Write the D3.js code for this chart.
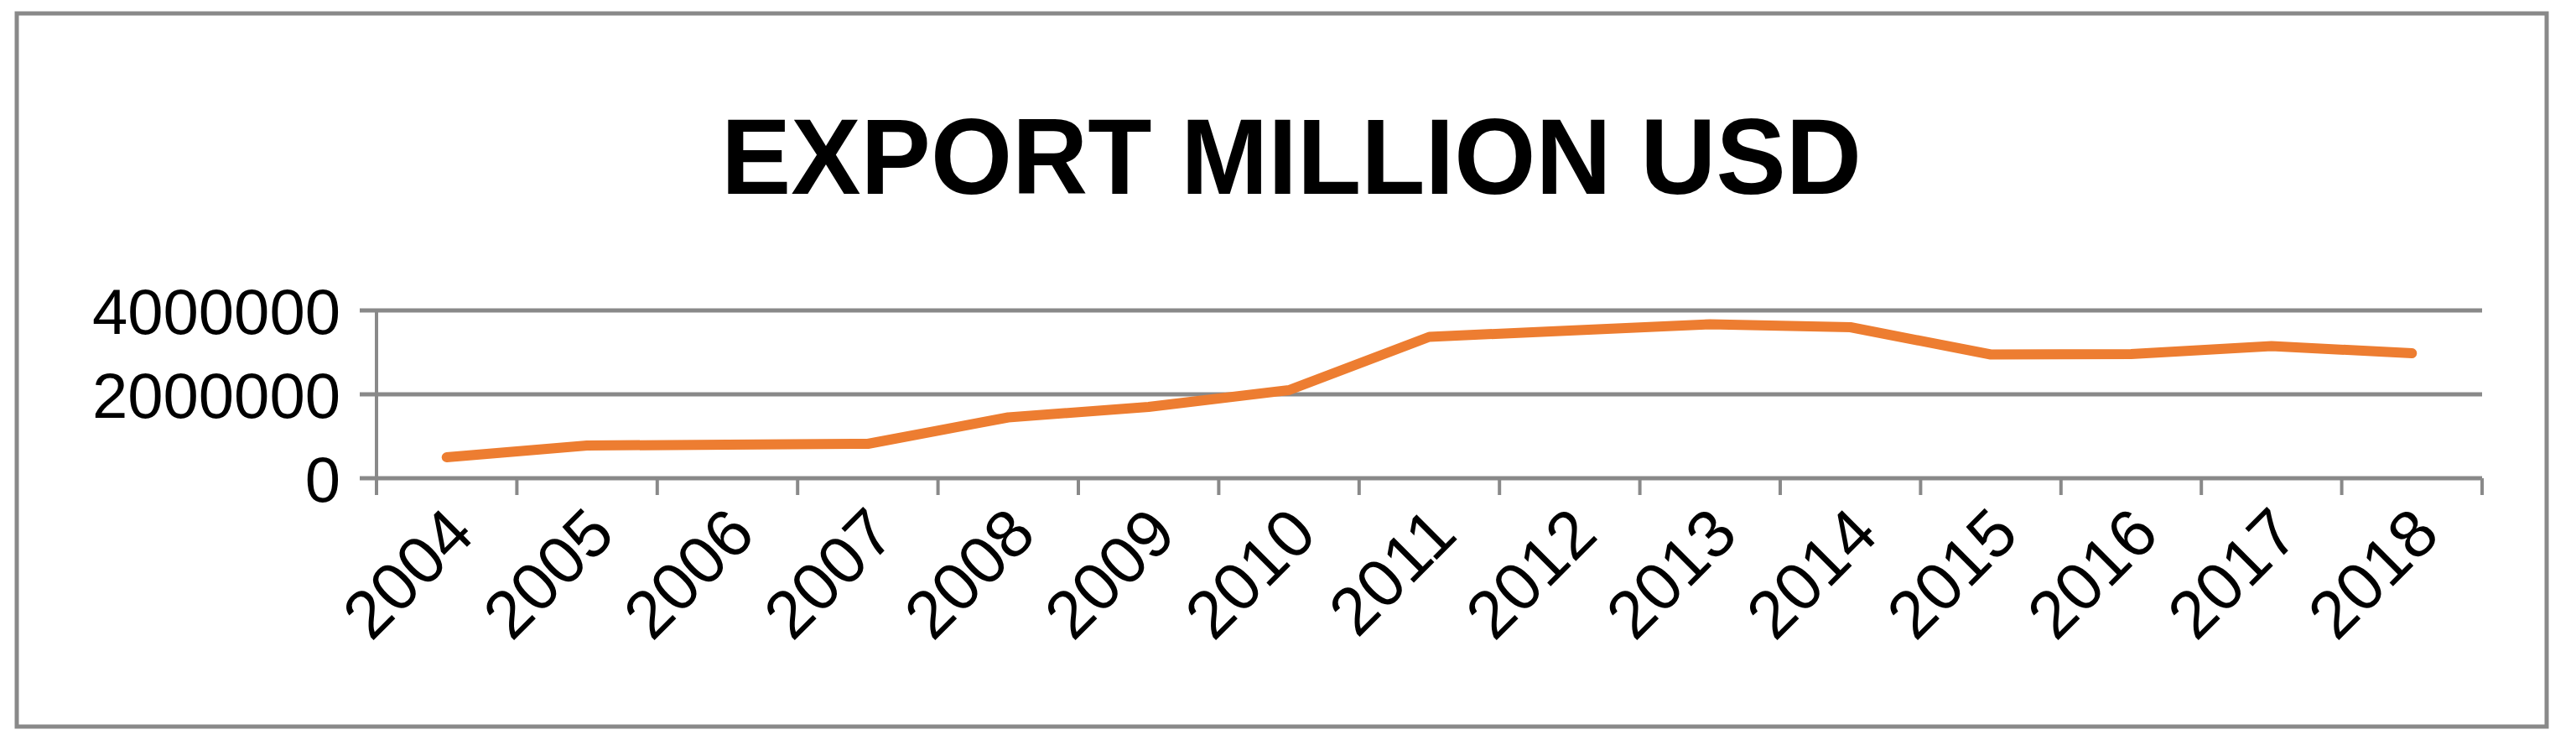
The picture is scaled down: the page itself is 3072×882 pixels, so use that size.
<!DOCTYPE html>
<html>
<head>
<meta charset="utf-8">
<script src="https://cdn.jsdelivr.net/npm/d3@7"></script>
<style>
  body { margin: 0; background: #fff; }
  text { font-family: "Liberation Sans", Arial, sans-serif; }
</style>
</head>
<body>
<svg id="chart" width="3072" height="882"></svg>
<script>
const years = ['2004','2005','2006','2007','2008','2009','2010','2011','2012','2013','2014','2015','2016','2017','2018']
const exports = [500000, 780000, 800000, 820000, 1450000, 1700000, 2100000, 3370000, 3520000, 3670000, 3600000, 2950000, 2960000, 3150000, 2980000]
const yTicks = [0, 2000000, 4000000]

const svg = d3.select('#chart')
const grey = '#898989'

svg.append('rect')
  .attr('x', 20).attr('y', 16).attr('width', 3017).attr('height', 850)
  .attr('fill', 'none').attr('stroke', grey).attr('stroke-width', 5)

svg.append('text')
  .attr('x', 1540).attr('y', 231)
  .attr('text-anchor', 'middle')
  .attr('font-size', 128).attr('font-weight', 'bold')
  .attr('textLength', 1360).attr('lengthAdjust', 'spacingAndGlyphs')
  .text('EXPORT MILLION USD')

const x = d3.scaleBand().domain(years).range([449, 2960])
const y = d3.scaleLinear().domain([0, 4000000]).range([570, 370])

// gridlines
svg.append('g').selectAll('line').data(yTicks).join('line')
  .attr('x1', 449 - 20).attr('x2', 2960)
  .attr('y1', d => y(d)).attr('y2', d => y(d))
  .attr('stroke', grey).attr('stroke-width', 5)

svg.append('line')
  .attr('x1', 449).attr('x2', 449).attr('y1', 370).attr('y2', 590)
  .attr('stroke', grey).attr('stroke-width', 4)

// x ticks
const edges = years.map(d => x(d)).concat([2960])
svg.append('g').selectAll('line').data(edges).join('line')
  .attr('x1', d => d).attr('x2', d => d)
  .attr('y1', 570).attr('y2', 590)
  .attr('stroke', grey).attr('stroke-width', 4)

svg.append('g').selectAll('text').data(yTicks).join('text')
  .attr('x', 406).attr('y', d => y(d) + 28)
  .attr('text-anchor', 'end')
  .attr('font-size', 76)
  .attr('textLength', 296).attr('lengthAdjust', 'spacingAndGlyphs')
  .text(d => d)
  .attr('textLength', d => String(d).length * 42.3)

svg.append('g').selectAll('text').data(years).join('text')
  .attr('transform', d => `translate(${x(d) + x.bandwidth() / 2 + 36},${640}) rotate(-45)`)
  .attr('text-anchor', 'end')
  .attr('font-size', 80)
  .text(d => d)

const line = d3.line()
  .x((d, i) => x(years[i]) + x.bandwidth() / 2)
  .y(d => y(d))

svg.append('path')
  .datum(exports)
  .attr('d', line)
  .attr('fill', 'none')
  .attr('stroke', '#ED7D31')
  .attr('stroke-width', 12)
  .attr('stroke-linecap', 'round')
  .attr('stroke-linejoin', 'round')
</script>
</body>
</html>
